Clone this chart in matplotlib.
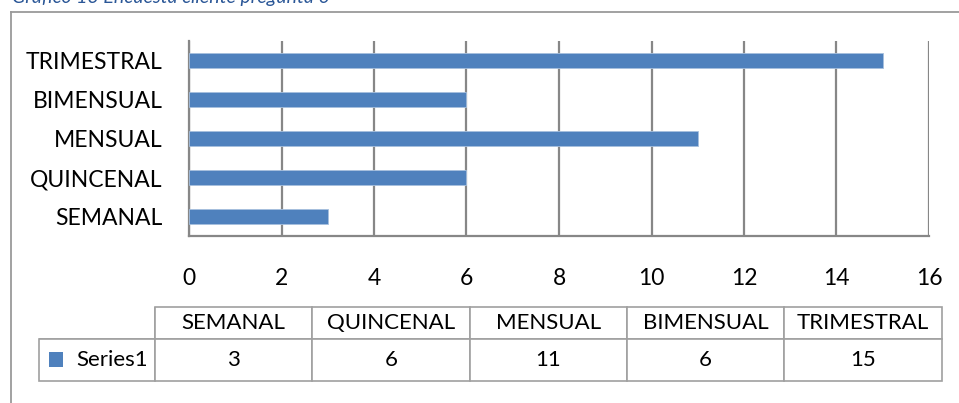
import matplotlib
matplotlib.use("Agg")
import matplotlib.pyplot as plt
from matplotlib.patches import Rectangle
from matplotlib.lines import Line2D

plt.rcParams['font.family'] = ['Lato', 'DejaVu Sans']

# frecuencia de compra - encuesta a clientes, pregunta 6
categorias = ['SEMANAL', 'QUINCENAL', 'MENSUAL', 'BIMENSUAL', 'TRIMESTRAL']
respuestas = [3, 6, 11, 6, 15]
serie = 'Series1'
ticks_x = [0, 2, 4, 6, 8, 10, 12, 14, 16]

azul = '#4F81BD'
gris = '#878787'
W, H = 959, 403

fig = plt.figure(figsize=(W / 100, H / 100), dpi=100)

# titulo (queda cortado por el borde superior)
fig.text(12 / W, 1 - 3.5 / H, 'Gráfico 13 Encuesta cliente pregunta 6',
         fontsize=14, style='italic', color='#2B5797', va='baseline', ha='left')

# marco del grafico
fig.add_artist(Line2D([10.5 / W, 10.5 / W], [0, 1 - 11.5 / H], color='#9A9A9A', lw=1.3))
fig.add_artist(Line2D([10.5 / W, 1], [1 - 11.5 / H, 1 - 11.5 / H], color='#9A9A9A', lw=1.3))

ax = fig.add_axes([189 / W, 1 - 236 / H, (929 - 189) / W, (236 - 41) / H])
y = range(len(categorias))
ax.barh(y, respuestas, height=0.38, color=azul, edgecolor='#A7C0DE', linewidth=0.6, zorder=3)
ax.set_xlim(0, 16)
ax.set_ylim(-0.5, len(categorias) - 0.5)
ax.set_xticks(ticks_x)
ax.set_xticklabels([str(t) for t in ticks_x], fontsize=16.5)
ax.set_yticks(list(y))
ax.set_yticklabels(categorias, fontsize=16.5)
ax.tick_params(axis='both', length=0, colors='black')
ax.tick_params(axis='x', pad=23)
ax.tick_params(axis='y', pad=19)
ax.xaxis.grid(True, color=gris, lw=1.6, zorder=0)
for s in ['top', 'right']:
    ax.spines[s].set_visible(False)
for s in ['left', 'bottom']:
    ax.spines[s].set_color(gris)
    ax.spines[s].set_linewidth(1.6)

# tabla de datos bajo el eje
tab = fig.add_axes([39.3 / W, 1 - 380.7 / H, (941.7 - 39.3) / W, (380.7 - 306.7) / H])
tab.axis('off')
tabla = tab.table(cellText=[[serie] + [str(v) for v in respuestas]],
                  colLabels=[''] + categorias,
                  colWidths=[115.7] + [157.3] * len(categorias),
                  cellLoc='center', bbox=[0, 0, 1, 1])
tabla.auto_set_font_size(False)
tabla.set_fontsize(16)
for (r, c), celda in tabla.get_celld().items():
    celda.set_edgecolor('#A0A0A0')
    celda.set_linewidth(1.2)
    celda.set_height(32 if r == 0 else 42)
tabla[0, 0].visible_edges = 'BR'
tabla[1, 0].get_text().set_ha('right')
tabla[1, 0].PAD = 0.06
tab.add_patch(Rectangle((9.7 / 902.4, 14 / 74), 14.3 / 902.4, 14.5 / 74,
                        facecolor=azul, edgecolor='none', zorder=5,
                        transform=tab.transAxes))

fig.savefig('out.png', dpi=100, facecolor='white')
